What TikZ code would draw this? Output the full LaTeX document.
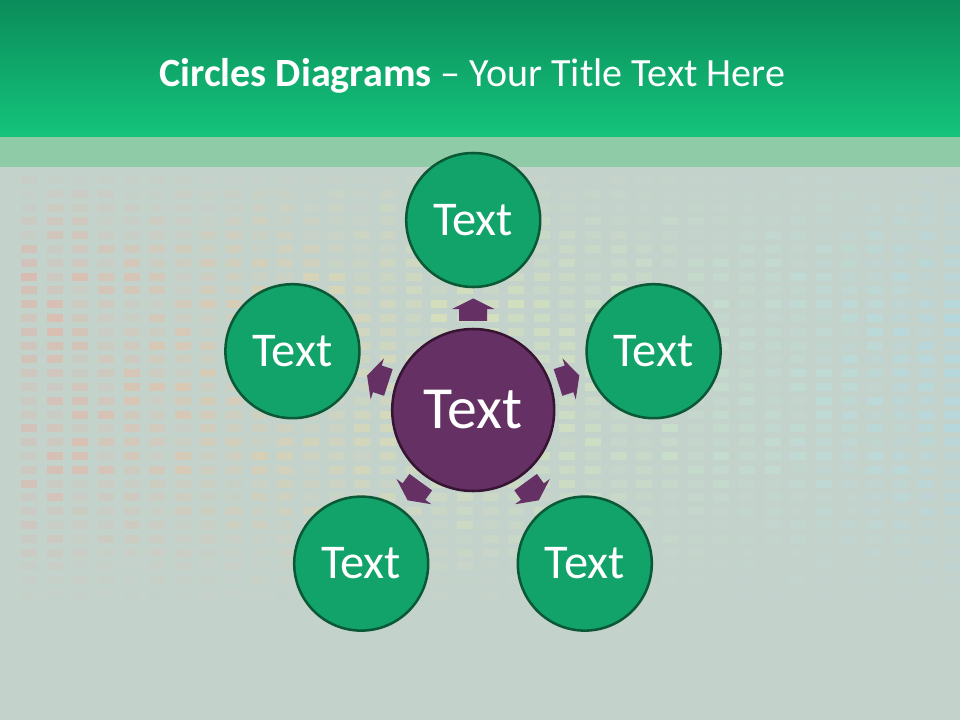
\documentclass[tikz,border=0pt]{standalone}
\usepackage{fontspec}
\setmainfont{Carlito}
\usepackage{tikz}
\usetikzlibrary{arrows.meta}

\definecolor{headtop}{RGB}{11,140,90}
\definecolor{headbot}{RGB}{20,196,124}
\definecolor{stripe}{RGB}{143,203,166}
\definecolor{slate}{RGB}{196,210,204}
\definecolor{leafgreen}{RGB}{18,163,106}
\definecolor{ringgreen}{RGB}{10,88,54}
\definecolor{plum}{RGB}{101,49,101}
\definecolor{plumdark}{RGB}{55,20,50}
\definecolor{barR}{RGB}{240,165,150}
\definecolor{barY}{RGB}{232,240,170}
\definecolor{barC}{RGB}{165,222,245}

\tikzset{
  leaf/.style={circle,draw=ringgreen,line width=1.8pt,fill=leafgreen,minimum size=3.35cm,
    inner sep=0pt,text=white,font=\fontsize{34.5}{40}\selectfont},
  hubnode/.style={circle,draw=plumdark,line width=1.8pt,fill=plum,minimum size=4.05cm,
    inner sep=0pt,text=white,font=\fontsize{42.5}{50}\selectfont}
}

\begin{document}
\begin{tikzpicture}
\useasboundingbox (0,0) rectangle (24,18);
% background and header
\fill[slate] (0,0) rectangle (24,18);
\shade[top color=headtop,bottom color=headbot] (0,14.575) rectangle (24,18);
\fill[stripe] (0,13.825) rectangle (24,14.575);

% equalizer bars
\pgfmathsetseed{7}
\foreach \i in {0,...,37}{
  \pgfmathtruncatemacro{\pa}{min(100,\i*100/17)}
  \pgfmathtruncatemacro{\pb}{max(0,min(100,(\i-17)*100/20))}
  \colorlet{barc}{barY!\pa!barR}
  \colorlet{barc}{barC!\pb!barc}
  \foreach \j in {0,...,31}{
    \pgfmathsetmacro{\op}{0.5*(0.25+0.75*rnd)*max(0,min(1,0.2+\j/9,(31-\j)/11))}
    \fill[barc,opacity=\op] (0.525+\i*0.641,13.6-\j*0.345) rectangle ++(0.4,-0.2);
  }
}

\node[text=white,font=\fontsize{28.5}{34}\selectfont] (title) at (11.81,16.1)
  {\textbf{Circles Diagrams} -- Your Title Text Here};

\begin{scope}[every node/.style={leaf}]
    \node (top) at (11.83,12.5) {Text};
    \node (rgt) at (16.34,9.22) {Text};
    \node (lft) at (7.31,9.22) {Text};
    \node (brt) at (14.62,3.91) {Text};
    \node (blt) at (9.03,3.91) {Text};
\end{scope}
\node[hubnode] (hub) at (11.83,7.75) {Text};

% arrows out of the hub
\foreach \a in {90,18,162,-54,-126}{
  \begin{scope}[shift={(hub.center)},rotate=\a]
    \fill[plum] (2.23,-0.35) -- (2.52,-0.35) -- (2.52,-0.54) -- (2.79,0)
      -- (2.52,0.54) -- (2.52,0.35) -- (2.23,0.35) -- cycle;
  \end{scope}
}
\end{tikzpicture}
\end{document}
